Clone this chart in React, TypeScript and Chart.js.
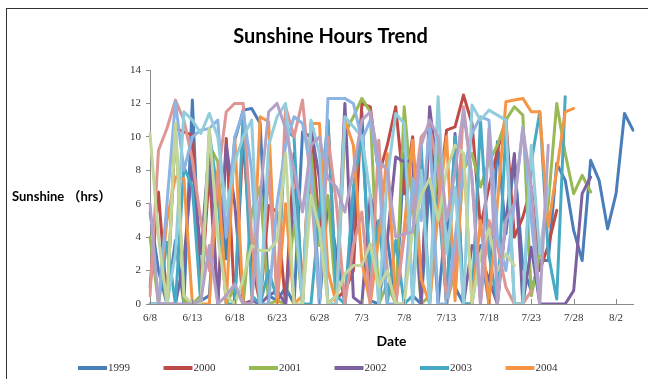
import React, { useEffect, useRef } from "react";
import { Chart, registerables } from "chart.js";

Chart.register(...registerables);

const DATES = [
  "6/8", "6/9", "6/10", "6/11", "6/12", "6/13", "6/14", "6/15", "6/16", "6/17",
  "6/18", "6/19", "6/20", "6/21", "6/22", "6/23", "6/24", "6/25", "6/26", "6/27",
  "6/28", "6/29", "6/30", "7/1", "7/2", "7/3", "7/4", "7/5", "7/6", "7/7",
  "7/8", "7/9", "7/10", "7/11", "7/12", "7/13", "7/14", "7/15", "7/16", "7/17",
  "7/18", "7/19", "7/20", "7/21", "7/22", "7/23", "7/24", "7/25", "7/26", "7/27",
  "7/28", "7/29", "7/30", "7/31", "8/1", "8/2", "8/3", "8/4",
];

const YEARS = ["1999", "2000", "2001", "2002", "2003", "2004", "2005", "2006", "2007", "2008", "2009"];

const COLORS = [
  "#4A7EBB", "#BE4B48", "#98B954", "#7D60A0", "#46AAC5", "#F69545",
  "#DE9694", "#8EB4E3", "#93CDDD", "#C3D69B", "#B3A2C7",
];

const S1999 = [5.5, 2.0, 0, 3.8, 0, 12.2, 0.2, 0.5, 7.8, 2.7, 9.8, 11.6, 11.7, 10.8, 0.5, 0.2, 1.0, 0, 10.3, 10.0, 0, 6.2, 3.0, 0, 5.0, 11.5, 0.2, 0, 4.0, 0, 9.0, 0.5, 0, 7.4, 0, 5.5, 1.0, 0, 0, 3.5, 0, 9.7, 4.2, 8.6, 2.2, 0.8, 2.6, 2.6, 8.4, 7.4, 4.4, 2.6, 8.6, 7.4, 4.5, 6.6, 11.4, 10.4];
const S2000 = [1.0, 6.7, 0, 10.5, 10.3, 10.1, 0.3, 8.0, 0, 9.9, 0, 10.0, 2.5, 0, 5.9, 5.5, 0, 9.0, 0.5, 10.8, 4.5, 11.0, 0.3, 0.8, 2.0, 12.0, 11.8, 7.7, 9.5, 11.8, 6.6, 10.0, 0.5, 10.8, 6.0, 10.4, 10.6, 12.5, 10.8, 4.6, 7.0, 9.2, 11.0, 4.0, 5.2, 7.0, 2.0, 3.5, 5.6];
const S2001 = [4.0, 0, 0, 10.8, 0.2, 0, 0.5, 9.5, 8.5, 0, 1.0, 0, 5.5, 7.0, 0, 0.2, 0, 5.0, 0, 9.0, 3.5, 6.5, 0, 10.2, 11.2, 12.3, 11.5, 0, 1.2, 0, 11.8, 6.0, 0, 0.5, 9.8, 0, 2.0, 8.0, 9.0, 7.0, 8.5, 9.5, 11.0, 11.8, 11.3, 0.5, 3.0, 6.0, 12.0, 9.0, 6.6, 7.7, 6.7];
const S2002 = [0, 0, 0, 0, 2.6, 8.4, 3.0, 9.4, 0, 9.5, 6.0, 0, 0.2, 0, 0.5, 0.8, 0, 6.8, 0, 10.5, 7.5, 0, 0.5, 12.0, 0.4, 0, 6.5, 3.8, 3.8, 8.8, 8.5, 8.6, 0, 11.8, 7.5, 0, 10.2, 0, 3.5, 2.8, 1.5, 0, 5.0, 9.0, 0, 3.4, 0, 0, 0, 0, 0.8, 6.6, 7.6];
const S2003 = [0, 0, 3.7, 0, 8.2, 7.0, 0, 10.3, 6.5, 0, 0, 11.4, 0.5, 0, 2.0, 0.3, 10.4, 10.0, 0, 0, 5.5, 11.0, 0.5, 0, 7.0, 10.0, 2.0, 5.0, 0, 3.8, 0, 0.5, 9.5, 0, 6.5, 0, 10.0, 0, 0, 11.0, 3.0, 0, 10.5, 0, 0, 8.5, 11.5, 3.0, 0.3, 12.4];
const S2004 = [0, 0, 5.0, 7.6, 7.5, 0, 0, 0, 8.0, 0, 10.0, 0, 0, 11.2, 10.9, 0, 6.0, 0, 0.5, 10.8, 10.8, 2.0, 0, 11.0, 9.5, 2.5, 0, 4.0, 9.0, 0, 4.5, 9.8, 1.5, 0, 5.5, 10.0, 0.2, 9.0, 0, 5.0, 0, 6.0, 12.1, 12.2, 12.3, 11.5, 11.5, 4.6, 8.0, 11.5, 11.7];
const S2005 = [0.5, 9.2, 10.5, 12.2, 11.0, 8.6, 5.0, 2.0, 7.5, 11.5, 12.0, 12.0, 4.0, 0, 8.0, 0.5, 11.8, 10.0, 12.2, 7.0, 0, 10.0, 6.0, 0, 3.5, 5.5, 0, 9.8, 2.0, 0, 4.0, 6.0, 10.0, 10.6, 8.0, 0, 2.5, 11.8, 7.5, 0, 5.0, 3.5, 1.0, 0, 0, 0.8];
const S2006 = [0, 0, 6.0, 12.1, 8.0, 10.0, 10.4, 10.5, 11.0, 4.0, 10.0, 11.5, 8.0, 0, 0, 6.0, 9.5, 11.2, 10.8, 8.0, 0, 12.3, 12.3, 12.3, 12.0, 9.8, 11.0, 8.0, 0, 0, 0, 7.5, 5.0, 10.5, 0, 0, 4.0, 8.0, 10.2, 11.2, 11.0, 4.0, 2.0, 6.0, 10.6, 5.0, 0];
const S2007 = [0, 0, 0, 3.0, 11.5, 11.0, 10.2, 11.4, 10.0, 5.5, 8.5, 10.0, 11.0, 0, 9.5, 11.2, 12.0, 6.0, 0, 11.0, 9.0, 0, 0, 11.2, 10.6, 10.0, 6.5, 0, 7.5, 11.4, 10.8, 0, 8.0, 0, 12.4, 3.0, 7.0, 0, 11.9, 11.0, 11.6, 11.3, 11.0, 0, 0, 9.5, 3.0, 7.0];
const S2008 = [10.2, 4.0, 0, 10.8, 0.5, 0, 0, 10.5, 4.0, 0.5, 0, 1.5, 3.5, 3.2, 3.2, 3.8, 9.0, 0, 0, 6.5, 4.5, 0, 0.5, 1.8, 2.3, 2.3, 3.6, 1.0, 2.0, 0, 0, 4.5, 6.5, 7.5, 5.0, 8.0, 9.5, 9.0, 0, 3.0, 4.5, 2.0, 3.0, 2.3];
const S2009 = [6.0, 0, 0, 0, 0, 0, 0.2, 3.5, 0, 0.5, 1.2, 0, 0, 6.5, 11.5, 12.0, 10.5, 8.0, 5.5, 9.5, 10.0, 7.5, 7.0, 5.5, 8.0, 11.0, 11.5, 8.6, 8.0, 4.0, 4.2, 4.3, 9.5, 11.0, 10.0, 5.0, 8.0, 11.6, 7.5, 0, 10.5, 0, 5.0, 6.0, 10.5, 7.0, 0, 9.5];

const SERIES = [S1999, S2000, S2001, S2002, S2003, S2004, S2005, S2006, S2007, S2008, S2009];

const TITLE = "Sunshine Hours Trend";
const X_TITLE = "Date";
const Y_TITLE = "Sunshine （hrs）";
const LEGEND_SHOWN = 6;

const decorPlugin = {
  id: "decor",
  afterDraw(chart: any) {
    const { ctx, chartArea, scales } = chart;
    const xs = scales.x;
    const ys = scales.y;
    ctx.save();
    // inside tick marks on the category axis
    ctx.strokeStyle = "#8a8a8a";
    ctx.lineWidth = 1;
    for (let i = 0; i < DATES.length; i += 5) {
      const px = Math.round(xs.getPixelForValue(i)) + 0.5;
      ctx.beginPath();
      ctx.moveTo(px, chartArea.bottom);
      ctx.lineTo(px, chartArea.bottom - 5);
      ctx.stroke();
    }
    // horizontal y-axis title
    ctx.font = 'bold 13px Lato, "Noto Sans CJK SC", sans-serif';
    ctx.fillStyle = "#000";
    ctx.textAlign = "left";
    ctx.textBaseline = "middle";
    ctx.fillText(Y_TITLE, 12, ys.getPixelForValue(6.4));
    // legend (first row)
    const ds = chart.data.datasets;
    const legendY = 368;
    const step = 85.5;
    const x0 = 78;
    ctx.font = '11px "Liberation Serif", serif';
    for (let i = 0; i < Math.min(LEGEND_SHOWN, ds.length); i++) {
      const lx = x0 + i * step;
      ctx.strokeStyle = ds[i].borderColor;
      ctx.lineWidth = 4;
      ctx.lineCap = "butt";
      ctx.beginPath();
      ctx.moveTo(lx, legendY);
      ctx.lineTo(lx + 29, legendY);
      ctx.stroke();
      ctx.fillStyle = "#333";
      ctx.fillText(ds[i].label, lx + 30, legendY + 0.5);
    }
    ctx.restore();
  },
};

export default function App() {
  const canvasRef = useRef<HTMLCanvasElement | null>(null);

  useEffect(() => {
    const canvas = canvasRef.current;
    if (!canvas) return;
    const n = SERIES.length;
    const chart = new Chart(canvas, {
      type: "line",
      data: {
        labels: DATES,
        datasets: SERIES.map((s, i) => ({
          label: YEARS[i],
          data: s,
          borderColor: COLORS[i],
          backgroundColor: COLORS[i],
          borderWidth: 3,
          pointRadius: 0,
          pointHoverRadius: 0,
          tension: 0,
          fill: false,
          borderJoinStyle: "round" as const,
          borderCapStyle: "round" as const,
          order: n - 1 - i,
        })),
      },
      options: {
        responsive: false,
        animation: false,
        events: [],
        layout: { padding: { left: 28, right: 15, top: 0, bottom: 25 } },
        plugins: {
          legend: { display: false },
          tooltip: { enabled: false },
          title: {
            display: true,
            text: TITLE,
            color: "#000",
            font: { family: "Lato", size: 20, weight: "bold" },
            padding: { top: 25, bottom: 21 },
          },
        },
        scales: {
          x: {
            type: "category",
            offset: false,
            border: { color: "#8a8a8a", width: 1 },
            grid: { display: true, drawOnChartArea: false, drawTicks: false },
            ticks: {
              autoSkip: false,
              maxRotation: 0,
              minRotation: 0,
              padding: 8,
              color: "#333",
              font: { family: "Liberation Serif", size: 11 },
              callback: (_v: any, i: number) => (i % 5 === 0 ? DATES[i] : ""),
            },
            title: {
              display: true,
              text: X_TITLE,
              color: "#000",
              font: { family: "Lato", size: 14, weight: "bold" },
              padding: { top: 0, bottom: 4 },
            },
            afterFit: (scale: any) => {
              scale.height = 50;
            },
          },
          y: {
            min: 0,
            max: 14,
            border: { color: "#8a8a8a", width: 1 },
            grid: { drawOnChartArea: false, drawTicks: true, tickLength: 4, color: "#8a8a8a" },
            ticks: {
              stepSize: 2,
              padding: 5,
              color: "#333",
              font: { family: "Liberation Serif", size: 11 },
            },
            afterFit: (scale: any) => {
              scale.width = 122;
            },
          },
        },
      },
      plugins: [decorPlugin],
    });
    return () => chart.destroy();
  }, []);

  return (
    <div
      style={{
        position: "fixed",
        left: 0,
        top: 0,
        width: 648,
        height: 379,
        overflow: "hidden",
        background: "#fff",
      }}
    >
      <div
        style={{
          position: "absolute",
          left: 6,
          top: 8,
          width: 700,
          height: 500,
          border: "1px solid #333",
          boxSizing: "border-box",
        }}
      />
      <canvas
        ref={canvasRef}
        width={648}
        height={379}
        style={{ position: "absolute", left: 0, top: 0, display: "block" }}
      />
    </div>
  );
}
